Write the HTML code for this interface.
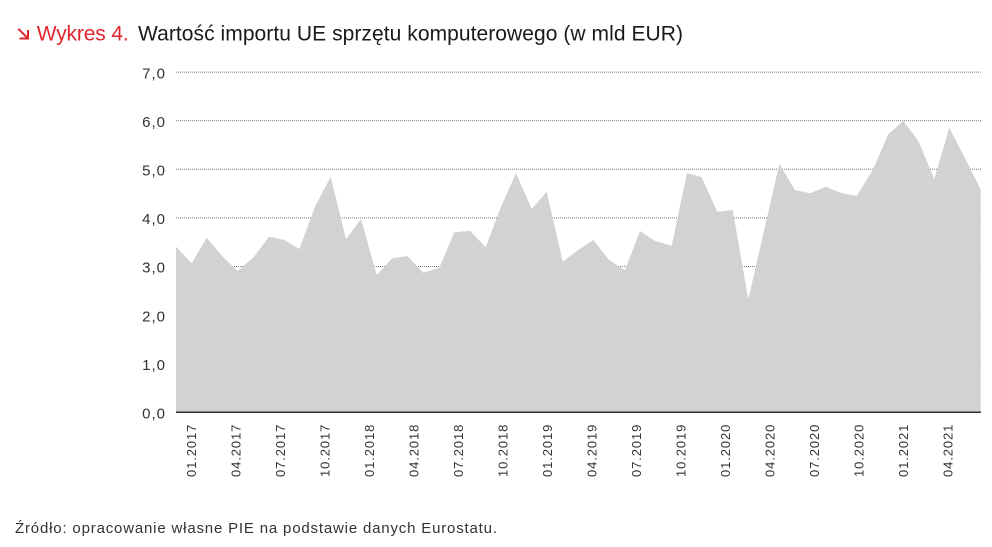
<!DOCTYPE html>
<html>
<head>
<meta charset="utf-8">
<style>
  html,body{margin:0;padding:0;background:#fff;}
  svg{display:block;}
  text{font-family:"Liberation Sans",sans-serif;}
</style>
</head>
<body>
<svg width="992" height="547" viewBox="0 0 992 547" xmlns="http://www.w3.org/2000/svg">
  <rect width="992" height="547" fill="#fff"/>
  <!-- Title -->
  <g stroke="#e2262f" stroke-width="2" fill="none" stroke-linecap="square">
    <line x1="19" y1="29.5" x2="28" y2="38.5"/>
    <line x1="20.5" y1="38.5" x2="28" y2="38.5"/>
    <line x1="28" y1="31" x2="28" y2="38.5"/>
  </g>
  <text x="36.7" y="40.5" font-size="21" fill="#e2262f" textLength="92" lengthAdjust="spacing">Wykres 4.</text>
  <text x="138" y="40.5" font-size="21" fill="#1a1a1a" textLength="545" lengthAdjust="spacing">Wartość importu UE sprzętu komputerowego (w mld EUR)</text>

  <!-- Gridlines -->
  <g stroke="#777" stroke-width="1" stroke-dasharray="1 1">
    <line x1="176" y1="72.1" x2="981" y2="72.1"/>
    <line x1="176" y1="120.7" x2="981" y2="120.7"/>
    <line x1="176" y1="169.3" x2="981" y2="169.3"/>
    <line x1="176" y1="217.9" x2="981" y2="217.9"/>
    <line x1="176" y1="266.5" x2="981" y2="266.5"/>
    <line x1="176" y1="315.1" x2="981" y2="315.1"/>
    <line x1="176" y1="363.7" x2="981" y2="363.7"/>
  </g>

  <!-- Area -->
  <polygon fill="#d1d2d4" points="176,412.3 176,246.7 191.7,263.3 206.7,237.7 223.3,257.3 237.7,271 254,256.7 269,236.7 284.3,240 299.3,249 315,206.7 330.7,176.7 346,239.3 361,219 376.7,275 392.3,258.3 407.3,256 423.3,272.7 439.3,267.7 454.3,232.3 470,230.7 485.7,247.3 501,206.7 516,173.3 531.7,209 546.7,191.7 562.7,261.7 578.3,250 593.3,240 609,260 625,270 640,231 655,241 671.7,245.7 687,173 701.7,177.3 717.3,211.7 732.7,210 748.3,299.3 764,231 779.3,164 795,190 810,193.3 825.7,186.7 841.7,193.3 856.7,196 872.7,170 888.3,134.3 903.3,121 918.3,140.7 934.3,179 949.3,127.7 965,158.3 980.7,189.3 980.7,412.3"/>

  <!-- Zero axis -->
  <line x1="176" y1="412.3" x2="981" y2="412.3" stroke="#333" stroke-width="1.5"/>

  <!-- Y labels -->
  <g font-size="15" fill="#333" text-anchor="end" letter-spacing="1">
    <text x="166" y="78.3">7,0</text>
    <text x="166" y="126.9">6,0</text>
    <text x="166" y="175.5">5,0</text>
    <text x="166" y="224.1">4,0</text>
    <text x="166" y="272.7">3,0</text>
    <text x="166" y="321.3">2,0</text>
    <text x="166" y="369.9">1,0</text>
    <text x="166" y="418.5">0,0</text>
  </g>

  <!-- X labels -->
  <g font-size="13" fill="#333" letter-spacing="0.9">
    <text transform="translate(196.2,477) rotate(-90)">01.2017</text>
    <text transform="translate(240.7,477) rotate(-90)">04.2017</text>
    <text transform="translate(285.2,477) rotate(-90)">07.2017</text>
    <text transform="translate(329.7,477) rotate(-90)">10.2017</text>
    <text transform="translate(374.2,477) rotate(-90)">01.2018</text>
    <text transform="translate(418.7,477) rotate(-90)">04.2018</text>
    <text transform="translate(463.2,477) rotate(-90)">07.2018</text>
    <text transform="translate(507.7,477) rotate(-90)">10.2018</text>
    <text transform="translate(552.2,477) rotate(-90)">01.2019</text>
    <text transform="translate(596.7,477) rotate(-90)">04.2019</text>
    <text transform="translate(641.2,477) rotate(-90)">07.2019</text>
    <text transform="translate(685.7,477) rotate(-90)">10.2019</text>
    <text transform="translate(730.2,477) rotate(-90)">01.2020</text>
    <text transform="translate(774.7,477) rotate(-90)">04.2020</text>
    <text transform="translate(819.2,477) rotate(-90)">07.2020</text>
    <text transform="translate(863.7,477) rotate(-90)">10.2020</text>
    <text transform="translate(908.2,477) rotate(-90)">01.2021</text>
    <text transform="translate(952.7,477) rotate(-90)">04.2021</text>
  </g>

  <!-- Footer -->
  <text x="15" y="533" font-size="15" fill="#333" textLength="482" lengthAdjust="spacing">Źródło: opracowanie własne PIE na podstawie danych Eurostatu.</text>
</svg>
</body>
</html>
